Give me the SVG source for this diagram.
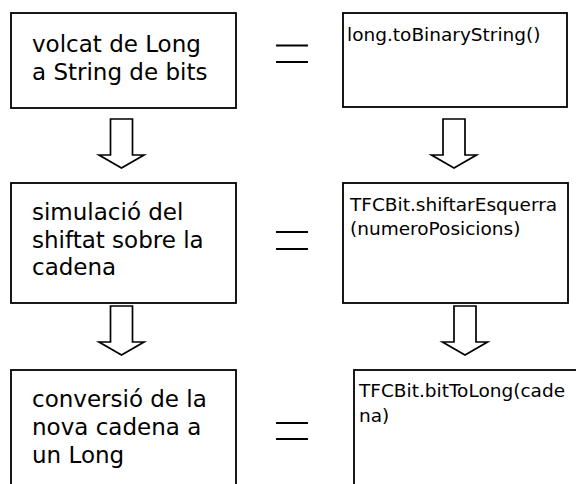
<svg xmlns="http://www.w3.org/2000/svg" xmlns:xlink="http://www.w3.org/1999/xlink" width="576" height="484" viewBox="0 0 576 484">
  <style>
    .box { fill: #fff; stroke: #000; stroke-width: 1.8; }
    .step { font-family: "DejaVu Sans", Verdana, sans-serif; font-size: 23px; fill: #000; }
    .code { font-family: "DejaVu Sans", Verdana, sans-serif; font-size: 18.5px; fill: #000; }
    .arrow { fill: #fff; stroke: #000; stroke-width: 1.7; stroke-linejoin: miter; }
    .eq { stroke: #000; stroke-width: 2; }
  </style>
  <defs>
    <!-- hollow block arrow, origin at the top centre of its shaft -->
    <polygon id="blockArrow" class="arrow" points="-11,0 11,0 11,36 22.5,36 0,49 -22.5,36 -11,36"/>
  </defs>
  <rect width="576" height="484" fill="#fff"/>

  <!-- left column: steps -->
  <g id="step1">
    <rect class="box" x="11" y="13" width="225" height="95"/>
    <text class="step" x="32" y="52">volcat de Long</text>
    <text class="step" x="32" y="80">a String de bits</text>
  </g>
  <g id="step2">
    <rect class="box" x="11" y="183" width="225" height="120"/>
    <text class="step" x="32" y="220">simulació del</text>
    <text class="step" x="32" y="248">shiftat sobre la</text>
    <text class="step" x="32" y="275">cadena</text>
  </g>
  <g id="step3">
    <rect class="box" x="11" y="370" width="225" height="130"/>
    <text class="step" x="32" y="407">conversió de la</text>
    <text class="step" x="32" y="435">nova cadena a</text>
    <text class="step" x="32" y="463">un Long</text>
  </g>

  <!-- right column: code calls -->
  <g id="call1">
    <rect class="box" x="343" y="13" width="224" height="94"/>
    <text class="code" x="347" y="41">long.toBinaryString()</text>
  </g>
  <g id="call2">
    <rect class="box" x="343" y="183" width="225" height="120"/>
    <text class="code" x="350" y="211">TFCBit.shiftarEsquerra</text>
    <text class="code" x="350" y="235">(numeroPosicions)</text>
  </g>
  <g id="call3">
    <rect class="box" x="354" y="370" width="240" height="130"/>
    <text class="code" x="359" y="397">TFCBit.bitToLong(cade</text>
    <text class="code" x="359" y="422">na)</text>
  </g>

  <!-- connectors: flow arrows and equivalence marks -->
  <g id="connectors">
    <use xlink:href="#blockArrow" x="121.5" y="119"/>
    <use xlink:href="#blockArrow" x="121.5" y="306"/>
    <use xlink:href="#blockArrow" x="454" y="119"/>
    <use xlink:href="#blockArrow" x="465" y="306"/>

    <line class="eq" x1="276" y1="45.5" x2="308" y2="45.5"/>
    <line class="eq" x1="276" y1="62" x2="308" y2="62"/>
    <line class="eq" x1="276" y1="232" x2="308" y2="232"/>
    <line class="eq" x1="276" y1="249" x2="308" y2="249"/>
    <line class="eq" x1="276" y1="423" x2="308" y2="423"/>
    <line class="eq" x1="276" y1="439" x2="308" y2="439"/>
  </g>
</svg>
